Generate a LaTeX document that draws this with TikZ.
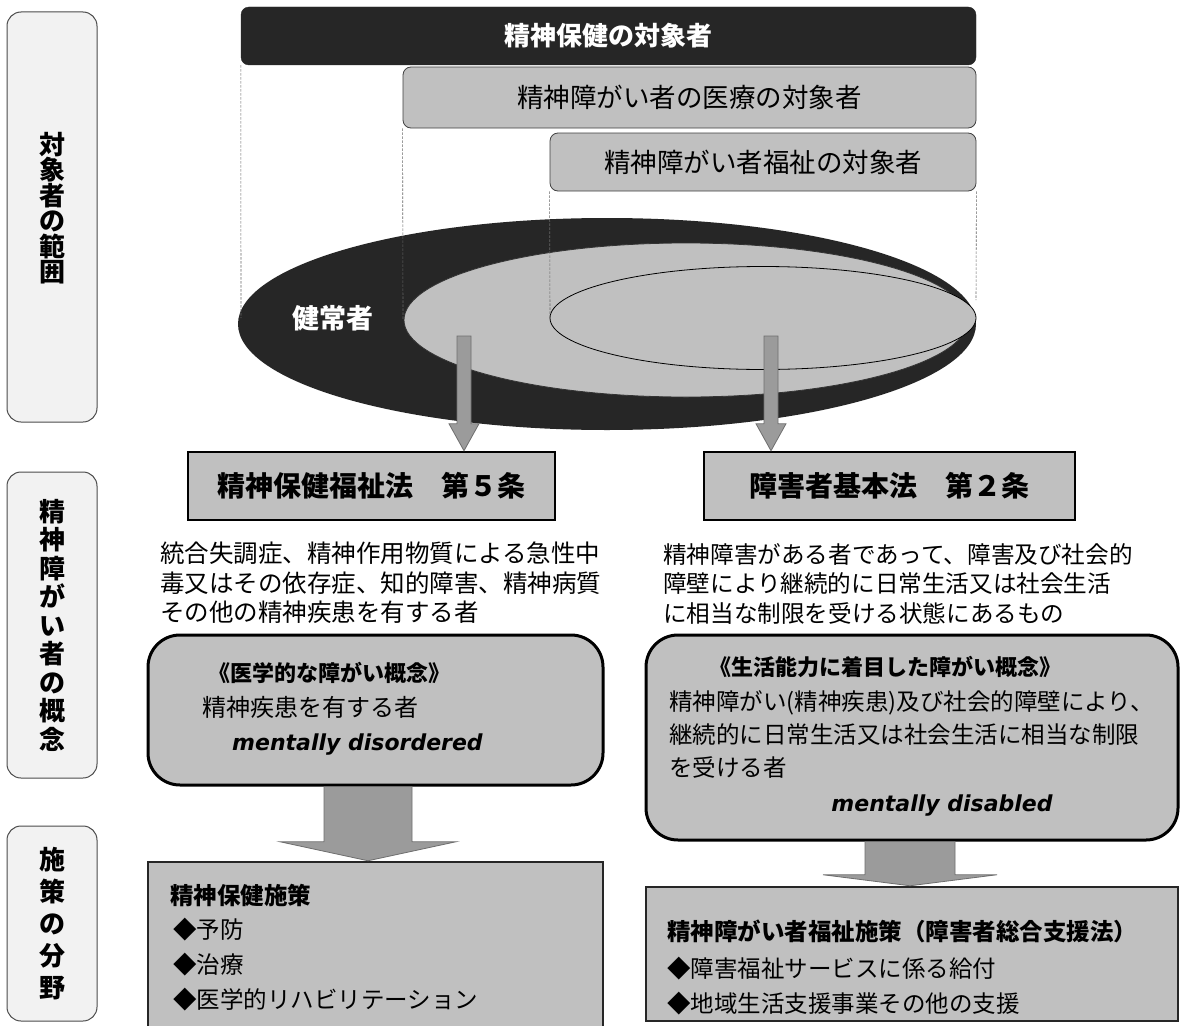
\documentclass[tikz,border=0pt]{standalone}
\usepackage{fontspec}
\setmainfont{Noto Sans CJK JP}
\newfontfamily\vfont{DejaVu Sans}
\usetikzlibrary{calc}
\definecolor{silver}{HTML}{C0C0C0}
\definecolor{inkblk}{HTML}{262626}
\definecolor{lblfill}{HTML}{F2F2F2}
\definecolor{arrfill}{HTML}{9B9B9B}
\definecolor{arrline}{HTML}{6E6E6E}
\newcommand\myfatarrow[6]{\draw[#1] let \p1=(#2), \p2=(#3) in
  (\x1-#4pt,\y1) -- (\x1-#4pt,\y2+#6pt) -- (\x1-#5pt,\y2+#6pt) -- (\x1,\y2)
  -- (\x1+#5pt,\y2+#6pt) -- (\x1+#4pt,\y2+#6pt) -- (\x1+#4pt,\y1) -- cycle;}
\newcommand\fs[2]{\fontsize{#1}{#2}\selectfont}
\begin{document}
\begin{tikzpicture}[x=1pt,y=-1pt,
  lblbox/.style={draw=black!70, fill=lblfill, rounded corners=14, line width=1, inner sep=0},
  vtext/.style={align=center, inner sep=0, font=\bfseries},
  blackbox/.style={draw=inkblk, fill=inkblk, rounded corners=8, inner sep=0, text=white, font=\bfseries\fs{26}{30}},
  topbox/.style={draw=black!75, fill=silver, rounded corners=8, line width=0.8, inner sep=0, font=\fs{26.5}{30}},
  guide/.style={draw=black!60, line width=0.6, dash pattern=on 2.5pt off 1.5pt},
  lawbox/.style={draw=black, fill=silver, line width=2.5, inner sep=0, font=\bfseries\fs{28}{32}},
  concept/.style={draw=black, fill=silver, line width=3, rounded corners=32, inner sep=0},
  policy/.style={draw=inkblk, fill=silver, line width=2.5, inner sep=0},
  txt/.style={inner sep=0, align=left},
  eng/.style={inner sep=0, font=\vfont\bfseries\itshape\fs{22}{26}},
  smallarrow/.style={fill=arrfill, draw=arrline, line width=0.8},
  bigarrow/.style={fill=arrfill, draw=arrline, line width=0.8}
]
\useasboundingbox (0,0) rectangle (1180,1025);
\fill[white] (0,0) rectangle (1180,1025);

% left label boxes
\node[lblbox, minimum width=90, minimum height=410] (L1) at (52,217) {};
\node[vtext, font=\bfseries\fs{26}{25.5}] (L1t) at (52,208) {対\\象\\者\\の\\範\\囲};
\node[lblbox, minimum width=90, minimum height=306] (L2) at (52,625) {};
\node[vtext, font=\bfseries\fs{26}{28.5}] (L2t) at (L2.center) {精\\神\\障\\が\\い\\者\\の\\概\\念};
\node[lblbox, minimum width=90, minimum height=195] (L3) at (52,923.5) {};
\node[vtext, font=\bfseries\fs{26}{32}] (L3t) at (L3.center) {施\\策\\の\\分\\野};

% top boxes
\node[blackbox, minimum width=735, minimum height=58] (T0) at (608.5,36) {精神保健の対象者};
\node[topbox, minimum width=573, minimum height=61] (T1) at (689.5,97.5) {精神障がい者の医療の対象者};
\node[topbox, minimum width=426, minimum height=58] (T2) at (763,162) {精神障がい者福祉の対象者};

% ellipses
\fill[inkblk] (607,324) ellipse [x radius=369pt, y radius=106pt];
\filldraw[fill=silver, draw=black!80, line width=0.8] (686,320) ellipse [x radius=282pt, y radius=77pt];
\filldraw[fill=silver, draw=black, line width=0.8] (763,318) ellipse [x radius=213pt, y radius=51.5pt];

% guide lines
\coordinate (g0) at (241,318);
\coordinate (g1) at (403,320);
\coordinate (g2) at (550,318);
\coordinate (g3) at (976,300);
\draw[guide] (T0.south west) -- (g0);
\draw[guide] (T1.south west) -- (g1);
\draw[guide] (T2.south west) -- (g2);
\draw[guide] (T2.south east) -- (g3);

\node[inner sep=0, text=white, font=\bfseries\fs{27}{30}] (H) at (333,318) {健常者};

% law boxes
\node[lawbox, minimum width=367, minimum height=68] (law1) at (371.5,486) {精神保健福祉法　第５条};
\node[lawbox, minimum width=371, minimum height=68] (law2) at (889.5,486) {障害者基本法　第２条};

% small arrows
\coordinate (s1) at (464,336);
\coordinate (s2) at (771,336);
\myfatarrow{smallarrow}{s1}{s1 |- law1.north}{7}{15}{27}
\myfatarrow{smallarrow}{s2}{s2 |- law2.north}{7}{15}{27}

% definitions
\node[txt, anchor=north west, font=\fs{24.5}{29.5}] (p1) at (160,542) {統合失調症、精神作用物質による急性中\\毒又はその依存症、知的障害、精神病質\\その他の精神疾患を有する者};
\node[txt, anchor=north west, font=\fs{23.6}{29.5}] (p2) at (663,543) {精神障害がある者であって、障害及び社会的\\障壁により継続的に日常生活又は社会生活\\に相当な制限を受ける状態にあるもの};

% concept boxes
\node[concept, minimum width=455, minimum height=150] (c1) at (375.5,710) {};
\node[txt, anchor=west, font=\bfseries\fs{22}{26}] (c1h) at (208,673) {《医学的な障がい概念》};
\node[txt, anchor=west, font=\fs{24}{28}] (c1a) at (202,707) {精神疾患を有する者};
\node[eng, anchor=base west] (c1e) at (232,750) {mentally disordered};

\node[concept, minimum width=532, minimum height=205] (c2) at (912,737.5) {};
\node[txt, anchor=west, font=\bfseries\fs{22}{26}] (c2h) at (709,667) {《生活能力に着目した障がい概念》};
\node[txt, anchor=north west, font=\fs{23.5}{33}] (c2a) at (669,690) {精神障がい(精神疾患)及び社会的障壁により、\\継続的に日常生活又は社会生活に相当な制限\\を受ける者};
\node[eng, anchor=base] (c2e) at (942,811) {mentally disabled};

% policy boxes
\node[policy, minimum width=455, minimum height=173] (pol1) at (375.5,948.5) {};
\node[policy, minimum width=532, minimum height=134] (pol2) at (912,954) {};
\node[txt, anchor=west, font=\bfseries\fs{23.5}{27}] (pol1h) at (170,895) {精神保健施策};
\node[txt, anchor=north west, font=\fs{23.5}{35}] (pol1b) at (173,918) {◆予防\\◆治療\\◆医学的リハビリテーション};
\node[txt, anchor=west, font=\bfseries\fs{23.5}{27}] (pol2h) at (667,931) {精神障がい者福祉施策（障害者総合支援法）};
\node[txt, anchor=north west, font=\fs{23.5}{35}] (pol2b) at (667,957) {◆障害福祉サービスに係る給付\\◆地域生活支援事業その他の支援};

% big arrows
\path (c1.south) ++(-7.5,0) coordinate (ba1);
\path (c2.south) ++(-2,0) coordinate (ba2);
\myfatarrow{bigarrow}{ba1}{ba1 |- pol1.north}{44}{88}{19}
\myfatarrow{bigarrow}{ba2}{ba2 |- pol2.north}{45}{87}{11}
\end{tikzpicture}
\end{document}
